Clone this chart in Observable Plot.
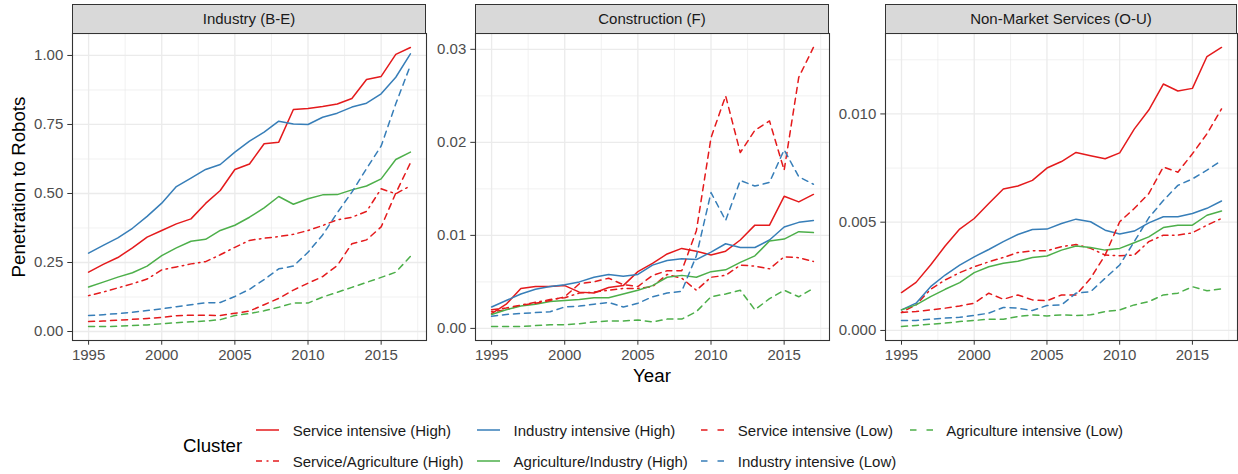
<!DOCTYPE html>
<html>
<head>
<meta charset="utf-8">
<script src="https://cdn.jsdelivr.net/npm/d3@7"></script>
<script src="https://cdn.jsdelivr.net/npm/@observablehq/plot@0.6"></script>
<style>
  html, body { margin: 0; padding: 0; background: #ffffff; }
  #chart { position: relative; width: 1238px; height: 474px; overflow: hidden;
           font-family: "Liberation Sans", Arial, sans-serif; background: #fff; }
  .strip { position: absolute; box-sizing: border-box; background: #D9D9D9; border: 1px solid #333333;
           color: #1A1A1A; font-size: 15px; text-align: center; }
  .abs { position: absolute; white-space: nowrap; }
</style>
</head>
<body>
<div id="chart"></div>
<script>
// ---------------- data ----------------
const years = [1995,1996,1997,1998,1999,2000,2001,2002,2003,2004,2005,2006,2007,2008,2009,2010,2011,2012,2013,2014,2015,2016,2017];

const seriesNames = ["Service intensive (High)", "Service/Agriculture (High)", "Industry intensive (High)",
  "Agriculture/Industry (High)", "Service intensive (Low)", "Industry intensive (Low)", "Agriculture intensive (Low)"];

const panelTitles = ["Industry (B-E)", "Construction (F)", "Non-Market Services (O-U)"];

// Industry (B-E)
const indServiceHigh     = [0.215,0.243,0.268,0.303,0.342,0.366,0.39,0.408,0.464,0.511,0.587,0.607,0.68,0.686,0.804,0.808,0.815,0.824,0.844,0.913,0.924,1.004,1.029];
const indServiceAgriHigh = [0.13,0.143,0.158,0.173,0.19,0.223,0.234,0.245,0.253,0.278,0.305,0.33,0.338,0.344,0.352,0.366,0.384,0.405,0.414,0.435,0.517,0.499,0.528];
const indIndustryHigh    = [0.284,0.312,0.339,0.374,0.417,0.465,0.525,0.556,0.587,0.605,0.65,0.69,0.722,0.762,0.752,0.75,0.776,0.791,0.813,0.827,0.861,0.921,1.006];
const indAgriIndHigh     = [0.161,0.179,0.197,0.213,0.237,0.275,0.303,0.327,0.334,0.366,0.385,0.414,0.448,0.489,0.461,0.481,0.495,0.496,0.513,0.527,0.553,0.623,0.65];
const indServiceLow      = [0.036,0.038,0.041,0.044,0.047,0.051,0.057,0.059,0.059,0.058,0.066,0.074,0.097,0.12,0.15,0.175,0.199,0.239,0.318,0.332,0.379,0.501,0.611];
const indIndustryLow     = [0.058,0.061,0.065,0.07,0.076,0.082,0.09,0.097,0.104,0.105,0.127,0.153,0.188,0.227,0.237,0.287,0.35,0.43,0.505,0.59,0.672,0.825,0.964];
const indAgriLow         = [0.018,0.018,0.019,0.022,0.024,0.028,0.032,0.035,0.038,0.043,0.058,0.065,0.075,0.088,0.103,0.103,0.125,0.142,0.16,0.178,0.196,0.215,0.272];

// Construction (F)
const conServiceHigh     = [0.0016,0.0026,0.0043,0.0045,0.0045,0.0046,0.0039,0.0038,0.0044,0.0046,0.0061,0.007,0.008,0.0086,0.0083,0.0079,0.0083,0.0095,0.0111,0.0111,0.0142,0.0136,0.0144];
const conServiceAgriHigh = [0.0018,0.002,0.0025,0.0028,0.0031,0.0033,0.0038,0.0039,0.0041,0.0043,0.0043,0.0045,0.0058,0.0054,0.0041,0.0055,0.0057,0.0068,0.0067,0.0064,0.0077,0.0076,0.0072];
const conIndustryHigh    = [0.0023,0.003,0.0037,0.0042,0.0045,0.0047,0.005,0.0055,0.0058,0.0056,0.0058,0.0068,0.0073,0.0075,0.0074,0.0082,0.0091,0.0087,0.0087,0.0095,0.0109,0.0114,0.0116];
const conAgriIndHigh     = [0.0015,0.002,0.0024,0.0026,0.0029,0.003,0.0031,0.0033,0.0033,0.0037,0.0041,0.0046,0.0055,0.0057,0.0055,0.0061,0.0063,0.0071,0.0078,0.0094,0.0096,0.0104,0.0103];
const conServiceLow      = [0.002,0.0022,0.0025,0.0027,0.003,0.0034,0.0048,0.005,0.0054,0.0047,0.0045,0.0057,0.0062,0.0062,0.0105,0.0205,0.025,0.0189,0.0213,0.0223,0.017,0.027,0.0302];
const conIndustryLow     = [0.0013,0.0015,0.0016,0.0017,0.0018,0.0023,0.0024,0.0026,0.0028,0.0023,0.0027,0.0034,0.0038,0.004,0.0078,0.0146,0.0116,0.0159,0.0153,0.0157,0.0192,0.0163,0.0155];
const conAgriLow         = [0.0002,0.0002,0.0002,0.0003,0.0004,0.0004,0.0005,0.0007,0.0008,0.0008,0.0009,0.0007,0.001,0.001,0.0018,0.0034,0.0037,0.0041,0.002,0.0032,0.0041,0.0034,0.0043];

// Non-Market Services (O-U)
const nmServiceHigh      = [0.00175,0.00222,0.00302,0.0039,0.00468,0.00517,0.00586,0.00653,0.00667,0.00693,0.0075,0.0078,0.00822,0.00807,0.00793,0.0082,0.0093,0.01018,0.01138,0.01106,0.01118,0.01265,0.01307];
const nmServiceAgriHigh  = [0.00083,0.00118,0.0019,0.00233,0.00267,0.00294,0.00317,0.00337,0.0036,0.00368,0.00368,0.00387,0.00397,0.00379,0.00348,0.00345,0.00348,0.0041,0.0044,0.0044,0.00451,0.00486,0.00517];
const nmIndustryHigh     = [0.00095,0.00126,0.00202,0.00256,0.00302,0.0034,0.00374,0.0041,0.00443,0.00466,0.00468,0.00494,0.00514,0.00502,0.00463,0.00445,0.00459,0.00497,0.00525,0.00525,0.0054,0.00564,0.00598];
const nmAgriIndHigh      = [0.00095,0.00118,0.00156,0.0019,0.00221,0.00267,0.00294,0.0031,0.0032,0.00337,0.00344,0.00371,0.0039,0.00383,0.00371,0.00379,0.00405,0.00432,0.00475,0.00486,0.00486,0.00532,0.00552];
const nmServiceLow       = [0.00083,0.00087,0.00095,0.00103,0.00113,0.00126,0.00172,0.00144,0.00164,0.00141,0.00137,0.00164,0.00164,0.00241,0.00348,0.00502,0.00563,0.00632,0.00755,0.00731,0.00816,0.00908,0.01023];
const nmIndustryLow      = [0.00046,0.00046,0.00052,0.00057,0.00061,0.00069,0.0008,0.00106,0.00103,0.00092,0.00115,0.00118,0.00172,0.00179,0.00241,0.00302,0.0041,0.0052,0.006,0.0067,0.007,0.0074,0.00785];
const nmAgriLow          = [0.00018,0.00023,0.00029,0.00034,0.00041,0.00046,0.00052,0.00052,0.00064,0.00072,0.00067,0.00072,0.00069,0.00072,0.00087,0.00095,0.00118,0.00133,0.00164,0.00172,0.00202,0.00183,0.00192];

const xTicks = [1995, 2000, 2005, 2010, 2015];
const yTicksIndustry = [0, 0.25, 0.5, 0.75, 1.0];
const yTicksConstruction = [0, 0.01, 0.02, 0.03];
const yTicksNonMarket = [0, 0.005, 0.01];

// ---------------- styles ----------------
const seriesColors = ["#E41A1C", "#E41A1C", "#377EB8", "#4DAF4A", "#E41A1C", "#377EB8", "#4DAF4A"];
const seriesDash   = [null, "1.5,4.5,6,4.5", null, null, "6,5", "6,5", "6,5"];
const keyDash      = [null, "6,4.5,2,4.5,6", null, null, "6.5,10", "6.5,10", "6.5,10"];

const panelValues = [
  [indServiceHigh, indServiceAgriHigh, indIndustryHigh, indAgriIndHigh, indServiceLow, indIndustryLow, indAgriLow],
  [conServiceHigh, conServiceAgriHigh, conIndustryHigh, conAgriIndHigh, conServiceLow, conIndustryLow, conAgriLow],
  [nmServiceHigh, nmServiceAgriHigh, nmIndustryHigh, nmAgriIndHigh, nmServiceLow, nmIndustryLow, nmAgriLow]
];
const panelYTicks = [yTicksIndustry, yTicksConstruction, yTicksNonMarket];
const panelFormat = [d3.format(".2f"), d3.format(".2f"), d3.format(".3f")];

// layout (frame positions in page pixels)
const frames = [ {left: 72, right: 426}, {left: 475, right: 829}, {left: 885, right: 1237} ];
const frameTop = 33, frameBottom = 340, stripTop = 4;
const ML = 60, MR = 4, MT = 2, MB = 30;

const chart = document.getElementById("chart");
const xDomain = [years[0] - 0.05 * (years[years.length-1] - years[0]), years[years.length-1] + 0.05 * (years[years.length-1] - years[0])];

function midpoints(t, lo, hi) {
  const step = t[1] - t[0];
  const out = [];
  for (let v = t[0] - step / 2; v <= hi; v += step) if (v >= lo) out.push(+v.toFixed(8));
  return out;
}

panelValues.forEach((vals, p) => {
  const rows = [];
  vals.forEach((arr, s) => arr.forEach((v, i) => rows.push({series: seriesNames[s], year: years[i], value: v})));
  const ext = d3.extent(rows, d => d.value);
  const pad = 0.05 * (ext[1] - ext[0]);
  const yDomain = [ext[0] - pad, ext[1] + pad];
  const fw = frames[p].right - frames[p].left;
  const fh = frameBottom - frameTop;

  const marks = [
    Plot.gridX(midpoints(xTicks, xDomain[0], xDomain[1]), {stroke: "#EBEBEB", strokeOpacity: 1, strokeWidth: 0.7}),
    Plot.gridY(midpoints(panelYTicks[p], yDomain[0], yDomain[1]), {stroke: "#EBEBEB", strokeOpacity: 1, strokeWidth: 0.7}),
    Plot.gridX(xTicks, {stroke: "#EBEBEB", strokeOpacity: 1, strokeWidth: 1.3}),
    Plot.gridY(panelYTicks[p], {stroke: "#EBEBEB", strokeOpacity: 1, strokeWidth: 1.3})
  ];
  seriesNames.forEach((name, s) => {
    marks.push(Plot.line(rows.filter(d => d.series === name), {
      x: "year", y: "value", stroke: "series", strokeWidth: 1.5,
      strokeDasharray: seriesDash[s] || undefined, strokeLinejoin: "round"
    }));
  });
  marks.push(Plot.frame({stroke: "#333333", strokeWidth: 1.1}));
  marks.push(Plot.axisX(xTicks, {label: null, tickSize: 4.7, tickPadding: 4.5, tickFormat: d => String(d),
    stroke: "#333333", fill: "#4D4D4D", fontSize: 15}));
  marks.push(Plot.axisY(panelYTicks[p], {label: null, tickSize: 4.7, tickPadding: 4.5, tickFormat: panelFormat[p],
    stroke: "#333333", fill: "#4D4D4D", fontSize: 15}));

  const svg = Plot.plot({
    width: ML + fw + MR, height: MT + fh + MB,
    marginLeft: ML, marginRight: MR, marginTop: MT, marginBottom: MB,
    x: {domain: xDomain, label: null},
    y: {domain: yDomain, label: null},
    color: {domain: seriesNames, range: seriesColors},
    style: {fontFamily: "Liberation Sans, Arial, sans-serif", fontSize: "15px", background: "transparent", overflow: "visible"},
    marks
  });
  svg.style.position = "absolute";
  svg.style.left = (frames[p].left - ML) + "px";
  svg.style.top = (frameTop - MT) + "px";
  svg.style.maxWidth = "none";
  chart.appendChild(svg);

  const strip = document.createElement("div");
  strip.className = "strip";
  strip.style.left = frames[p].left + "px";
  strip.style.top = stripTop + "px";
  strip.style.width = fw + "px";
  strip.style.height = (frameTop - stripTop + 1) + "px";
  strip.style.lineHeight = (frameTop - stripTop - 1) + "px";
  strip.textContent = panelTitles[p];
  chart.appendChild(strip);
});

// axis titles
const yTitle = document.createElement("div");
yTitle.className = "abs";
yTitle.textContent = "Penetration to Robots";
Object.assign(yTitle.style, {left: "19px", top: ((frameTop + frameBottom) / 2) + "px", fontSize: "18.7px", color: "#000",
  transform: "translate(-50%,-50%) rotate(-90deg)"});
chart.appendChild(yTitle);

const xTitle = document.createElement("div");
xTitle.className = "abs";
xTitle.textContent = "Year";
Object.assign(xTitle.style, {left: ((frames[1].left + frames[1].right) / 2) + "px", top: "376px", fontSize: "18.7px", color: "#000",
  transform: "translate(-50%,-50%)"});
chart.appendChild(xTitle);

// legend
const legTitle = document.createElement("div");
legTitle.className = "abs";
legTitle.textContent = "Cluster";
Object.assign(legTitle.style, {left: "183px", top: "446.3px", fontSize: "18.7px", color: "#000", transform: "translate(0,-50%)"});
chart.appendChild(legTitle);

const legRowY = [430, 460.7];
const keyW = 23, keyGap = 13.7, colGap = 13.3;
let colX = 256;
const nCols = Math.ceil(seriesNames.length / 2);
for (let col = 0; col < nCols; col++) {
  let maxW = 0;
  for (let row = 0; row < 2; row++) {
    const s = col * 2 + row;
    if (s >= seriesNames.length) continue;
    const ty = legRowY[row];
    const key = d3.create("svg").attr("width", keyW + 2).attr("height", 10)
      .style("position", "absolute").style("left", (colX - 1) + "px").style("top", (ty - 5) + "px");
    key.append("line").attr("x1", 1).attr("x2", keyW + 1).attr("y1", 5).attr("y2", 5)
      .attr("stroke", seriesColors[s]).attr("stroke-width", 1.5)
      .attr("stroke-dasharray", keyDash[s]);
    chart.appendChild(key.node());
    const t = document.createElement("div");
    t.className = "abs";
    t.textContent = seriesNames[s];
    Object.assign(t.style, {left: (colX + keyW + keyGap) + "px", top: ty + "px", fontSize: "15px", color: "#1A1A1A",
      transform: "translate(0,-50%)"});
    chart.appendChild(t);
    maxW = Math.max(maxW, t.getBoundingClientRect().width);
  }
  colX += keyW + keyGap + maxW + colGap;
}
</script>
</body>
</html>
